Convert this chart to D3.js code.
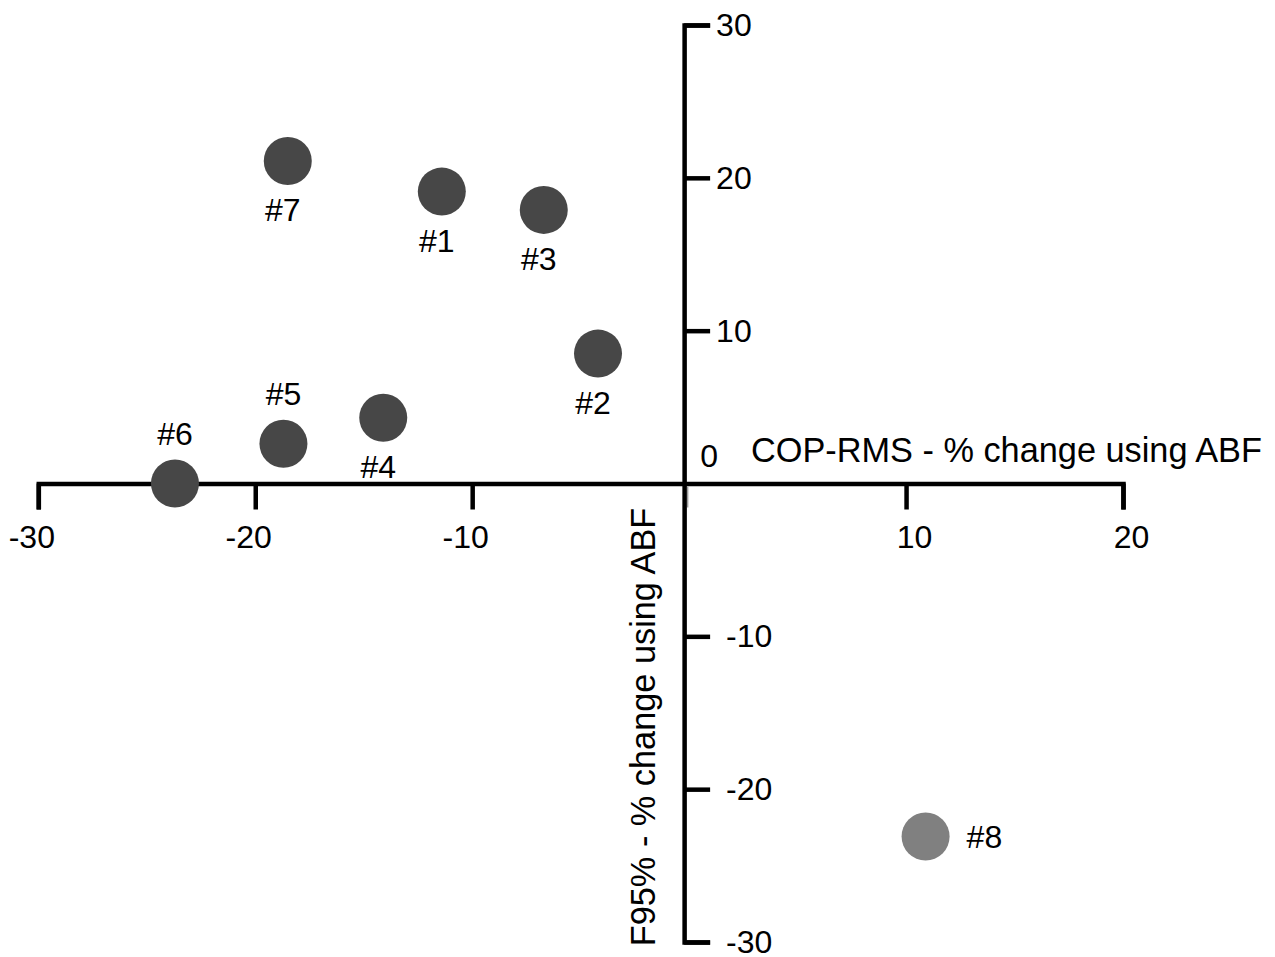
<!DOCTYPE html>
<html>
<head>
<meta charset="utf-8">
<script src="https://cdn.jsdelivr.net/npm/d3@7"></script>
<style>
  body { margin: 0; background: #fff; }
  text { font-family: "Liberation Sans", Arial, sans-serif; fill: #000; }
</style>
</head>
<body>
<svg id="chart" width="1275" height="957"></svg>
<script>
// subjects and their % change values
const labels = ["#1", "#2", "#3", "#4", "#5", "#6", "#7", "#8"];
const copRms = [-11.4, -4.2, -6.7, -14.1, -18.7, -23.7, -18.5, 10.9];
const f95 = [19.1, 8.5, 17.9, 4.3, 2.6, 0, 21.1, -23.1];
const labelSide = ["below", "below", "below", "below", "above", "above", "below", "right"];
const highlight = [false, false, false, false, false, false, false, true];

const xTicks = [-30, -20, -10, 10, 20];
const yTicks = [-30, -20, -10, 10, 20, 30];

const svg = d3.select("#chart");

const x = d3.scaleLinear().domain([-30, 20]).range([38.3, 1123]);
const y = d3.scaleLinear().domain([-30, 30]).range([942, 25]);

const axisWidth = 4.5;
const yAxisX = x(0) - 5; // vertical axis sits a little left of zero in the original
const fmt = (d) => String(d); // plain hyphen, like the original

// x axis
const gx = svg.append("g")
  .attr("transform", `translate(0,${y(0)})`)
  .call(d3.axisBottom(x).tickValues(xTicks).tickFormat(fmt).tickSize(26).tickSizeOuter(26));

gx.select(".domain").attr("stroke", "#000").attr("stroke-width", axisWidth).attr("fill", "none");
gx.selectAll(".tick line").attr("stroke", "#000").attr("stroke-width", axisWidth);
gx.selectAll(".tick text")
  .attr("y", 64)
  .attr("dy", 0)
  .attr("dx", (d) => (d < 0 ? -7 : 8))
  .style("font-size", "32px")
  .style("font-family", "'Liberation Sans', Arial, sans-serif");

// faint zero tick
svg.append("line")
  .attr("x1", x(0) - 1.5).attr("x2", x(0) - 1.5)
  .attr("y1", y(0) + 3).attr("y2", y(0) + 24)
  .attr("stroke", "#999")
  .attr("stroke-width", 1.5);

// y axis
const gy = svg.append("g")
  .attr("transform", `translate(${yAxisX},0)`)
  .call(d3.axisRight(y).tickValues(yTicks).tickFormat(fmt).tickSize(26).tickSizeOuter(26));

gy.select(".domain").attr("stroke", "#000").attr("stroke-width", axisWidth).attr("fill", "none");
gy.selectAll(".tick line").attr("stroke", "#000").attr("stroke-width", axisWidth);
gy.selectAll(".tick text")
  .attr("x", (d) => (d < 0 ? 42 : 32))
  .attr("dy", "0.33em")
  .attr("text-anchor", "start")
  .style("font-size", "32px")
  .style("font-family", "'Liberation Sans', Arial, sans-serif");

// origin label
svg.append("text")
  .attr("x", x(0) + 20)
  .attr("y", y(0) - 17)
  .attr("text-anchor", "middle")
  .style("font-size", "32px")
  .text("0");

// axis titles
svg.append("text")
  .attr("x", 751)
  .attr("y", 462)
  .style("font-size", "34.3px")
  .text("COP-RMS - % change using ABF");

svg.append("text")
  .attr("transform", `translate(655,727) rotate(-90)`)
  .attr("text-anchor", "middle")
  .style("font-size", "34.3px")
  .text("F95% - % change using ABF");

// points
const pts = labels.map((l, i) => ({ label: l, x: copRms[i], y: f95[i], side: labelSide[i], hi: highlight[i] }));

svg.append("g")
  .selectAll("circle")
  .data(pts)
  .enter()
  .append("circle")
  .attr("cx", (d) => x(d.x))
  .attr("cy", (d) => y(d.y))
  .attr("r", 24)
  .attr("fill", (d) => (d.hi ? "#808080" : "#474747"));

svg.append("g")
  .selectAll("text")
  .data(pts)
  .enter()
  .append("text")
  .attr("x", (d) => {
    if (d.side === "right") return x(d.x) + 41;
    if (d.side === "above") return x(d.x);
    return x(d.x) - 5;
  })
  .attr("y", (d) => {
    if (d.side === "below") return y(d.y) + 60;
    if (d.side === "above") return y(d.y) - 39;
    return y(d.y) + 11;
  })
  .attr("text-anchor", (d) => (d.side === "right" ? "start" : "middle"))
  .style("font-size", "32px")
  .text((d) => d.label);
</script>
</body>
</html>
